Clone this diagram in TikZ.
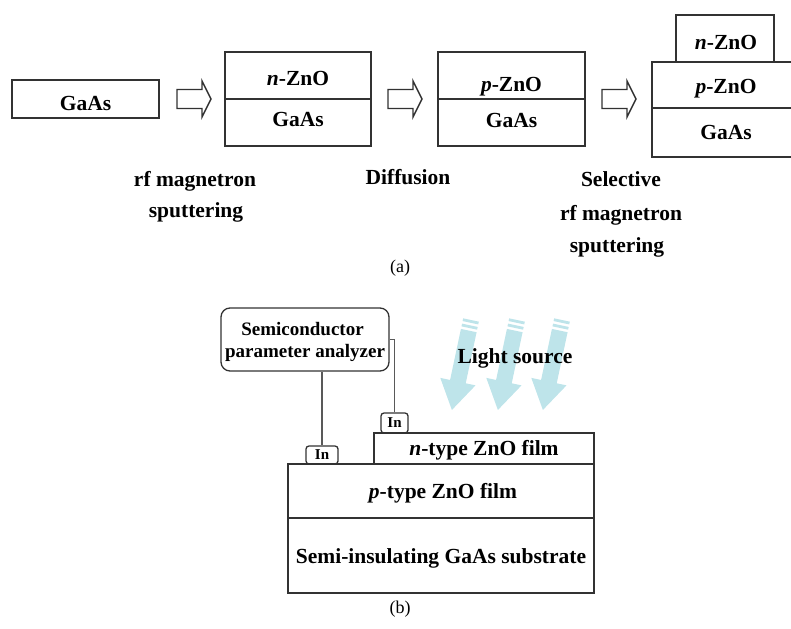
\documentclass[tikz,border=0pt]{standalone}
\usepackage{fontspec}
\setmainfont{Liberation Serif}
\definecolor{raycol}{RGB}{190,228,234}
\definecolor{edge}{RGB}{50,50,50}
\begin{document}
\begin{tikzpicture}[x=1pt,y=-1pt,
  layer/.style={draw=edge, line width=1.6pt, inner sep=0pt, outer sep=0pt},
  lbl/.style={font=\fontsize{21.5}{26}\selectfont\bfseries, inner sep=0pt, anchor=base},
  smlbl/.style={font=\fontsize{19}{22}\selectfont\bfseries, inner sep=0pt, anchor=base},
  caption/.style={font=\fontsize{18}{22}\selectfont, inner sep=0pt, anchor=base},
  contact/.style={draw=edge, line width=1.3pt, rounded corners=3pt, inner sep=0pt,
    font=\fontsize{15}{18}\selectfont\bfseries},
  wire/.style={draw=black!65, line width=1.6pt},
  procarrow/.pic={
    \draw[edge, line width=1.4pt, fill=white]
      (0,-9.5) -- (25,-9.5) -- (25,-18) -- (34,0) -- (25,18) -- (25,9.5) -- (0,9.5) -- cycle;
  },
  lightray/.pic={
    \fill[raycol] (-8,0) rectangle (8,2.8);
    \fill[raycol] (-8,5.4) rectangle (8,8.2);
    \fill[raycol] (-8,10.8) -- (8,10.8) -- (8,63) -- (18,63) -- (0,92)
      -- (-18,63) -- (-8,63) -- cycle;
  }]
\clip (0,0) rectangle (791,628);

% ---------- (a) process steps ----------
\node[layer, minimum width=147pt, minimum height=38pt] (s1) at (85.5,99) {};
\node[lbl] (s1t) at (85.5,111) {GaAs};

\pic at (177,99) {procarrow};

\node[layer, minimum width=146pt, minimum height=47pt] (s2a) at (298,75.5) {};
\node[layer, minimum width=146pt, minimum height=47pt] (s2b) at (298,122.5) {};
\node[lbl] (s2at) at (298,86) {\textit{n}-ZnO};
\node[lbl] (s2bt) at (298,127) {GaAs};

\pic at (388,99) {procarrow};

\node[layer, minimum width=147pt, minimum height=47pt] (s3a) at (511.5,75.5) {};
\node[layer, minimum width=147pt, minimum height=47pt] (s3b) at (511.5,122.5) {};
\node[lbl] (s3at) at (511.5,92) {\textit{p}-ZnO};
\node[lbl] (s3bt) at (511.5,128) {GaAs};

\pic at (602,99) {procarrow};

\node[layer, minimum width=98pt, minimum height=47pt] (s4n) at (725,38.5) {};
\node[layer, minimum width=148pt, minimum height=46pt] (s4p) at (726,85) {};
\node[layer, minimum width=148pt, minimum height=49pt] (s4g) at (726,132.5) {};
\node[lbl] (s4nt) at (726,50) {\textit{n}-ZnO};
\node[lbl] (s4pt) at (726,94) {\textit{p}-ZnO};
\node[lbl] (s4gt) at (726,140) {GaAs};

\node[lbl] (p1a) at (195,186) {rf magnetron};
\node[lbl] (p1b) at (196,218) {sputtering};
\node[lbl] (p2) at (408,185) {Diffusion};
\node[lbl] (p3a) at (621,187) {Selective};
\node[lbl] (p3b) at (621,220) {rf magnetron};
\node[lbl] (p3c) at (617,252) {sputtering};

\node[caption] (capa) at (400,272) {(a)};

% ---------- (b) device and measurement ----------
\pic[rotate=-12] at (471,320) {lightray};
\pic[rotate=-12] at (517,320) {lightray};
\pic[rotate=-12] at (562,320) {lightray};
\node[lbl] (light) at (515,363) {Light source};

\node[draw=edge, line width=1.3pt, rounded corners=9pt, minimum width=168pt,
  minimum height=63pt, inner sep=0pt] (ana) at (305,339.5) {};
\node[smlbl] (ana1) at (302.5,335) {Semiconductor};
\node[smlbl] (ana2) at (305,357) {parameter analyzer};

\node[layer, minimum width=220pt, minimum height=31pt] (nfilm) at (484,448.5) {};
\node[layer, minimum width=306pt, minimum height=54pt] (pfilm) at (441,491) {};
\node[layer, minimum width=306pt, minimum height=75pt] (subs) at (441,555.5) {};
\node[lbl] (nfilmt) at (484,455) {\textit{n}-type ZnO film};
\node[lbl] (pfilmt) at (443,498) {\textit{p}-type ZnO film};
\node[lbl] (subst) at (441,563) {Semi-insulating GaAs substrate};

\node[contact, minimum width=32pt, minimum height=18pt] (inL) at (322,455) {In};
\node[contact, minimum width=27pt, minimum height=20pt] (inR) at (394.5,423) {In};

\draw[wire] (inL.north) -- (inL.north |- ana.south);
\draw[wire] (inR.north) |- (ana.east);

\node[caption] (capb) at (400,613) {(b)};
\end{tikzpicture}
\end{document}
